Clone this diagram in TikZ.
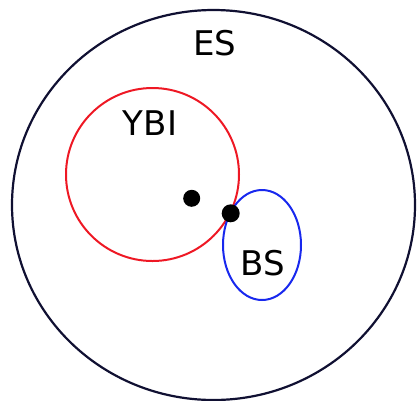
\documentclass[tikz,border=0pt]{standalone}
\usepackage{fontspec}
\setmainfont{DejaVu Sans}
\definecolor{esnavy}{RGB}{16,16,50}
\definecolor{ybired}{RGB}{238,24,36}
\definecolor{bsblue}{RGB}{24,40,238}
\begin{document}
\begin{tikzpicture}[x=1pt,y=-1pt,
		mengen text/.style={font=\fontsize{34}{40}\selectfont, inner sep=0pt},
		punkt/.style={fill=black}]
		
		\useasboundingbox (0,0) rectangle (417,400);
		
		% grosse Menge ES
		\draw[line width=2.2pt, esnavy] (213.5,205) ellipse [x radius=201.5pt, y radius=195pt];
		
		% Kreis YBI
		\draw[line width=2pt, ybired] (152.5,174.5) circle [radius=86.5pt];
		
		% Ellipse BS
		\draw[line width=2pt, bsblue] (262,245) ellipse [x radius=39pt, y radius=55pt];
		
		% Punkte
		\fill[punkt] (191.7,198.3) circle [radius=8.5pt];
		\fill[punkt] (230.7,213.3) circle [radius=9pt];
		
		% Beschriftungen
		\node[mengen text] (es) at (215,43) {ES};
		\node[mengen text] (ybi) at (150,123) {YBI};
		\node[mengen text] (bs) at (263,263) {BS};
		
	\end{tikzpicture}
\end{document}
